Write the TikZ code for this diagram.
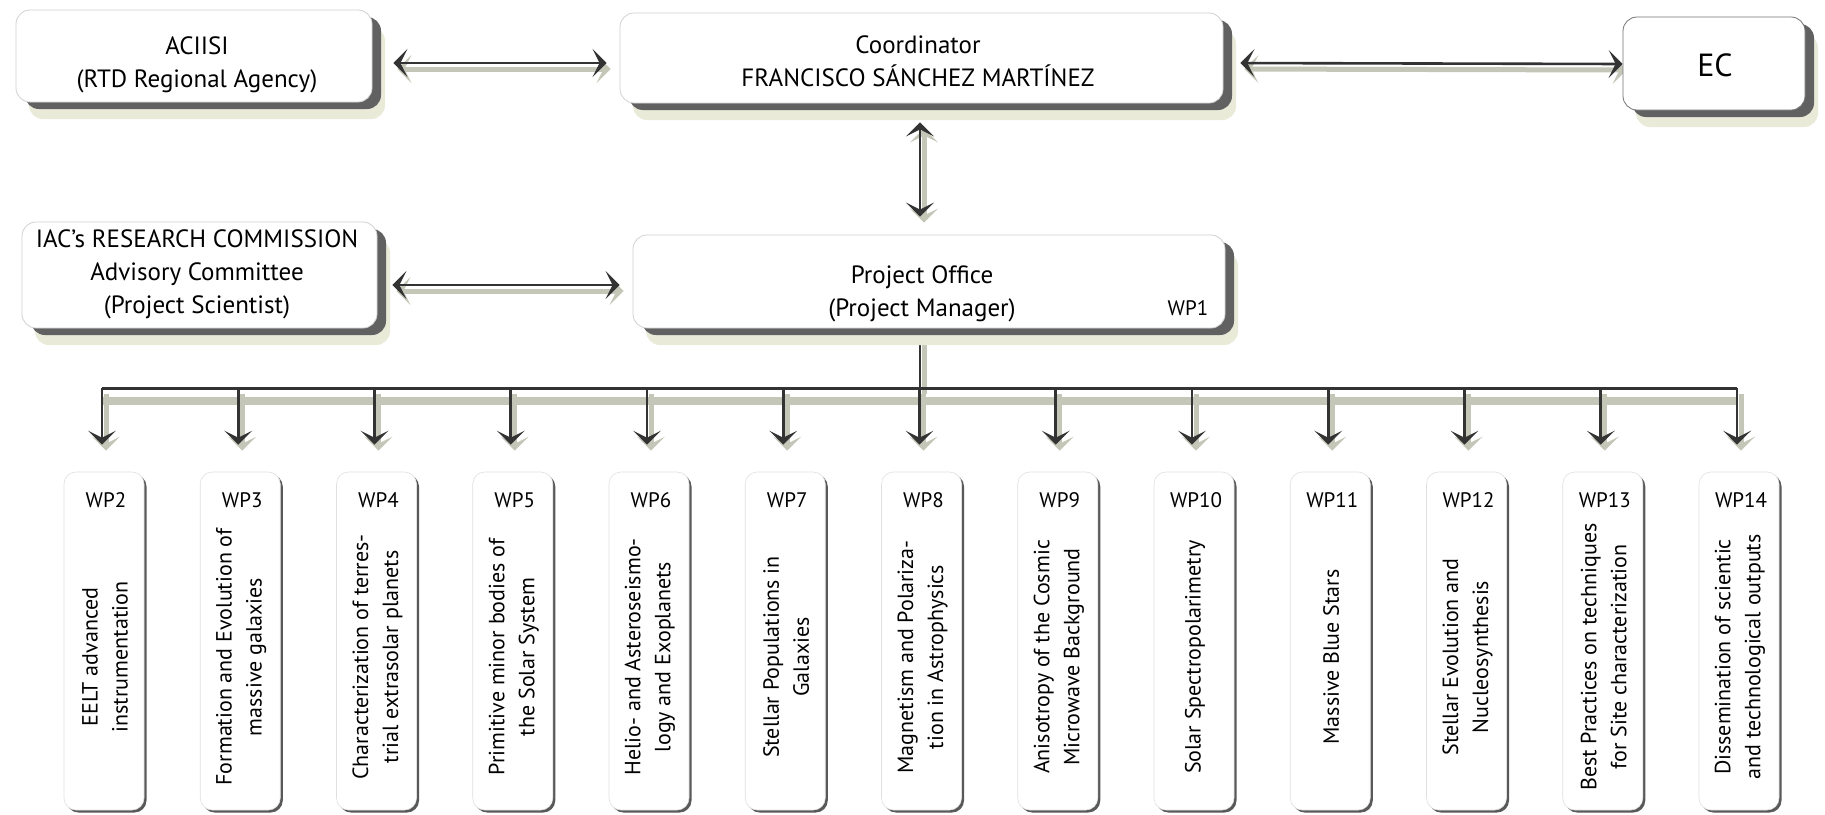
\documentclass[tikz,border=0pt]{standalone}
\usepackage{fontspec}
\setmainfont{PT Sans}
\usetikzlibrary{arrows.meta,shadows}
\pgfdeclarelayer{background}
\pgfdeclarelayer{paper}
\pgfsetlayers{paper,background,main}
\definecolor{halo}{RGB}{234,234,216}
\definecolor{shband}{RGB}{196,198,184}
\begin{document}
\begin{tikzpicture}[x=1pt,y=-1pt,
  >={Stealth[length=14pt,width=28pt,inset=7pt]},
  box/.style={rectangle, rounded corners=14pt, fill=white, draw=black!18, line width=0.8pt, inner sep=0pt,
     general shadow={fill=halo, shadow xshift=13pt, shadow yshift=-17pt},
     general shadow={fill=black!62, shadow xshift=9pt, shadow yshift=-7pt}},
  wpbox/.style={rectangle, rounded corners=12pt, fill=white, draw=black!12, line width=0.6pt, inner sep=0pt,
     minimum width=80pt, minimum height=338pt,
     general shadow={fill=black!65, shadow xshift=2.5pt, shadow yshift=-2.5pt}},
  txt/.style={font=\fontsize{25}{33}\selectfont, align=center, inner sep=0pt},
  wptxt/.style={font=\fontsize{22}{30}\selectfont, align=center, rotate=90, inner sep=0pt},
  wplab/.style={font=\fontsize{21}{24}\selectfont, inner sep=0pt},
  conn/.style={draw=black!80, line width=2.6pt,
     preaction={draw=shband, line width=5pt, transform canvas={shift={(4pt,-6pt)}}}},
  busline/.style={draw=black!80, line width=3pt,
     preaction={draw=shband, line width=8pt, transform canvas={shift={(0pt,-13pt)}}}}
]
\useasboundingbox (0,0) rectangle (1825,814);
\begin{pgfonlayer}{paper}
\fill[white] (0,0) rectangle (1825,814);
\end{pgfonlayer}

% top boxes
\node[box, minimum width=356pt, minimum height=92pt] (aciisi) at (194,56) {};
\node[txt] (aciisiT) at (197,64.5) {ACIISI\\(RTD Regional Agency)};
\node[box, minimum width=603pt, minimum height=90pt] (coord) at (921.5,58) {};
\node[txt] (coordT) at (918,61.5) {Coordinator\\FRANCISCO SÁNCHEZ MARTÍNEZ};
\node[box, minimum width=182pt, minimum height=93pt, draw=black!55] (ec) at (1714,63.5) {};
\node[txt, font=\fontsize{32}{36}\selectfont] (ecT) at (1715,65) {EC};
\node[box, minimum width=355pt, minimum height=106pt] (iac) at (199.5,275) {};
\node[txt] (iacT) at (197,274) {IAC’s RESEARCH COMMISSION\\Advisory Committee\\(Project Scientist)};
\node[box, minimum width=592pt, minimum height=93pt] (po) at (929,281.5) {};
\node[txt] (poT) at (922,293.5) {Project Office\\(Project Manager)};
\node[wplab] (wp1) at (1188,308) {WP1};

% bus coordinates
\coordinate (busL) at (102,388);
\coordinate (busR) at (1737,388);
\coordinate (busM) at (920,388);

% work packages
\foreach \t [count=\k from 0] in {
  {EELT advanced\\instrumentation},
  {Formation and Evolution of\\massive galaxies},
  {Characterization of terres-\\trial extrasolar planets},
  {Primitive minor bodies of\\the Solar System},
  {Helio- and Asteroseismo-\\logy and Exoplanets},
  {Stellar Populations in\\Galaxies},
  {Magnetism and Polariza-\\tion in Astrophysics},
  {Anisotropy of the Cosmic\\Microwave Background},
  {Solar Spectropolarimetry},
  {Massive Blue Stars},
  {Stellar Evolution and\\Nucleosynthesis},
  {Best Practices on techniques\\for Site characterization},
  {Dissemination of scientic\\and technological outputs}}{
  \pgfmathsetmacro{\xx}{102+136.25*\k}
  \pgfmathtruncatemacro{\n}{\k+2}
  \node[wpbox] (wp\n) at (\xx+2,641) {};
  \node[wplab] (wpl\n) at (\xx+4,500) {WP\n};
  \node[wptxt] (wpt\n) at (\xx+3,657) {\t};
  \coordinate (b\n) at (\xx,388);
}

\begin{pgfonlayer}{background}
  \draw[conn,<->, shorten <=21pt, shorten >=13pt] ([yshift=-7pt]aciisi.east) -- ([yshift=-5pt]coord.west);
  \draw[conn,<->, shorten <=17pt] ([yshift=-5pt]coord.east) -- ([yshift=-0.5pt]ec.west);
  \draw[conn,<->, shorten <=19pt, shorten >=18pt] (coord.south -| busM) -- (po.north -| busM);
  \draw[conn,<->, shorten <=15pt, shorten >=13pt] ([yshift=-10pt]iac.east) -- ([yshift=-3.5pt]po.west);
  \draw[conn] (po.south -| busM) -- (busM);
  \draw[busline] (busL) -- (busR);
  \foreach \n in {2,...,14}{
    \draw[conn,->, shorten >=27pt] (b\n) -- (wp\n.north -| b\n);
  }
\end{pgfonlayer}
\end{tikzpicture}
\end{document}
